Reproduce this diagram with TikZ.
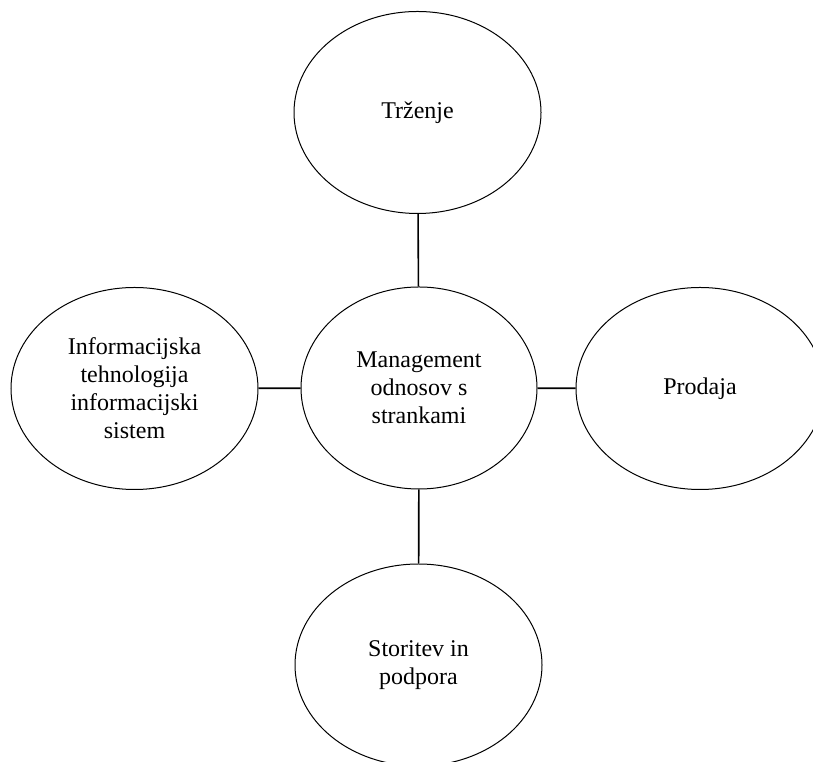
\documentclass[tikz,border=0pt]{standalone}
\usepackage{fontspec}
\setmainfont{Liberation Serif}
\usetikzlibrary{shapes.geometric}
\begin{document}
\begin{tikzpicture}[x=1pt,y=1pt,
  bubble/.style={draw=black, line width=1pt, ellipse, inner sep=0pt,
    minimum width=247pt, minimum height=202pt, align=center,
    font=\fontsize{24}{28}\selectfont},
  link/.style={draw=black, line width=1.6pt}]
  \useasboundingbox (0,0) rectangle (813,762);
  \clip (0,0) rectangle (813,762);
  \node[bubble] (trz) at (417.5,649.5) {Trženje};
  \node[bubble, minimum width=236pt] (crm) at (419,374) {Management\\odnosov s\\strankami};
  \node[bubble] (it) at (134.5,373.5) {Informacijska\\tehnologija\\informacijski\\sistem};
  \node[bubble, minimum width=248pt] (pro) at (700,373.5) {Prodaja};
  \node[bubble] (sto) at (418.5,97) {Storitev in\\podpora};
  \draw[link] (trz) -- (crm);
  \draw[link] (crm) -- (sto);
  \draw[link] (it) -- (crm);
  \draw[link] (crm) -- (pro);
\end{tikzpicture}
\end{document}
